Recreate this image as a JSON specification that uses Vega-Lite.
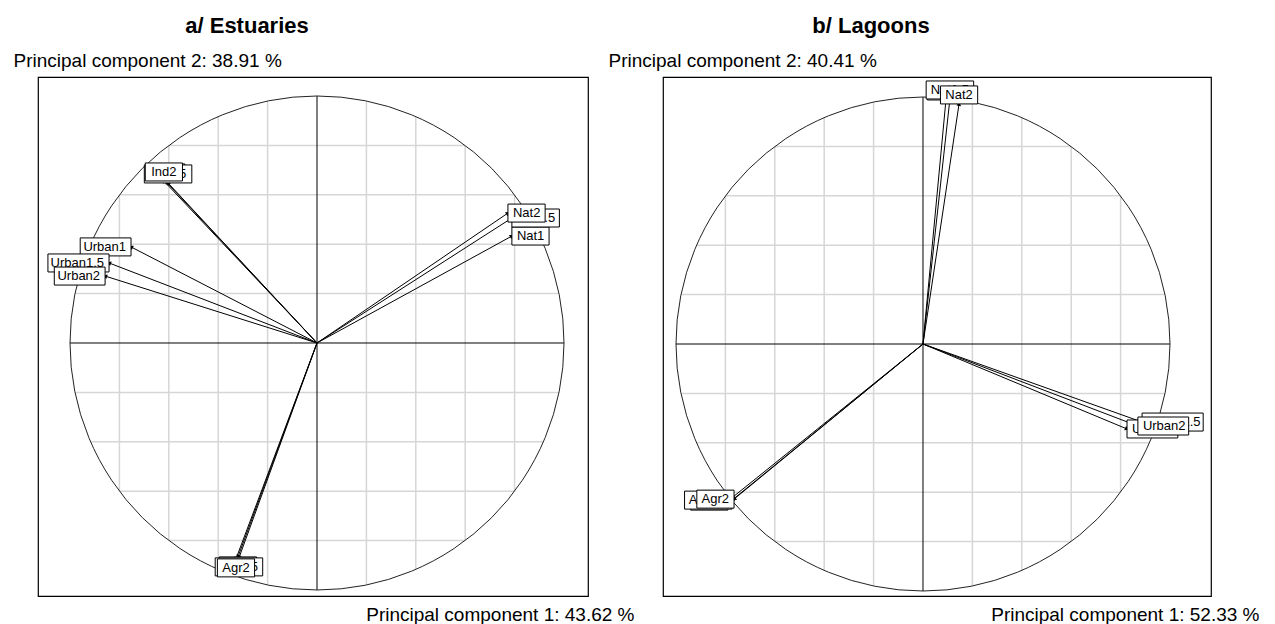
{
  "$schema": "https://vega.github.io/schema/vega-lite/v6.json",
  "background": "white",
  "padding": {"left": 12, "top": 14, "right": 10, "bottom": 0},
  "autosize": {"type": "pad"},
  "config": {
    "view": {"stroke": "black", "strokeWidth": 1.2},
    "axis": {"domain": false, "ticks": false, "labels": false, "grid": false, "titleFont": "Liberation Sans", "titleFontSize": 19, "titleFontWeight": "normal", "titleColor": "black", "titlePadding": 0},
    "title": {"font": "Liberation Sans", "fontSize": 22, "fontWeight": "bold", "color": "black"},
    "text": {"font": "Liberation Sans"}
  },
  "datasets": {
    "grid": [
      {"x": -0.8, "y": -0.6, "x2": -0.8, "y2": 0.6},
      {"x": -0.6, "y": -0.8, "x2": -0.6, "y2": 0.8},
      {"x": -0.4, "y": -0.9165, "x2": -0.4, "y2": 0.9165},
      {"x": -0.2, "y": -0.9798, "x2": -0.2, "y2": 0.9798},
      {"x": 0.2, "y": -0.9798, "x2": 0.2, "y2": 0.9798},
      {"x": 0.4, "y": -0.9165, "x2": 0.4, "y2": 0.9165},
      {"x": 0.6, "y": -0.8, "x2": 0.6, "y2": 0.8},
      {"x": 0.8, "y": -0.6, "x2": 0.8, "y2": 0.6},
      {"x": -0.6, "y": -0.8, "x2": 0.6, "y2": -0.8},
      {"x": -0.8, "y": -0.6, "x2": 0.8, "y2": -0.6},
      {"x": -0.9165, "y": -0.4, "x2": 0.9165, "y2": -0.4},
      {"x": -0.9798, "y": -0.2, "x2": 0.9798, "y2": -0.2},
      {"x": -0.9798, "y": 0.2, "x2": 0.9798, "y2": 0.2},
      {"x": -0.9165, "y": 0.4, "x2": 0.9165, "y2": 0.4},
      {"x": -0.8, "y": 0.6, "x2": 0.8, "y2": 0.6},
      {"x": -0.6, "y": 0.8, "x2": 0.6, "y2": 0.8}
    ],
    "axes": [
      {"x": -1, "y": 0, "x2": 1, "y2": 0},
      {"x": 0, "y": -1, "x2": 0, "y2": 1}
    ],
    "origin": [{"x": 0, "y": 0}],
    "estuaries": [
      {"label": "Nat1", "stage": 1, "x": 0.789, "y": 0.433},
      {"label": "Nat1.5", "stage": 1.5, "x": 0.789, "y": 0.506},
      {"label": "Nat2", "stage": 2, "x": 0.773, "y": 0.526},
      {"label": "Urban1", "stage": 1, "x": -0.753, "y": 0.389},
      {"label": "Urban1.5", "stage": 1.5, "x": -0.842, "y": 0.324},
      {"label": "Urban2", "stage": 2, "x": -0.858, "y": 0.271},
      {"label": "Ind1", "stage": 1, "x": -0.61, "y": 0.652},
      {"label": "Ind1.5", "stage": 1.5, "x": -0.603, "y": 0.648},
      {"label": "Ind2", "stage": 2, "x": -0.62, "y": 0.656},
      {"label": "Agr1", "stage": 1, "x": -0.32, "y": -0.866},
      {"label": "Agr1.5", "stage": 1.5, "x": -0.316, "y": -0.87},
      {"label": "Agr2", "stage": 2, "x": -0.328, "y": -0.874}
    ],
    "lagoons": [
      {"label": "Nat1", "stage": 1, "x": 0.093, "y": 0.988},
      {"label": "Nat1.5", "stage": 1.5, "x": 0.109, "y": 0.992},
      {"label": "Nat2", "stage": 2, "x": 0.146, "y": 0.972},
      {"label": "Urban1", "stage": 1, "x": 0.826, "y": -0.344},
      {"label": "Urban1.5", "stage": 1.5, "x": 0.887, "y": -0.316},
      {"label": "Urban2", "stage": 2, "x": 0.87, "y": -0.332},
      {"label": "Agr1", "stage": 1, "x": -0.79, "y": -0.636},
      {"label": "Agr1.5", "stage": 1.5, "x": -0.773, "y": -0.632},
      {"label": "Agr2", "stage": 2, "x": -0.765, "y": -0.628}
    ]
  },
  "hconcat": [
    {
      "width": 550,
      "height": 519,
      "title": {"text": "a/ Estuaries", "anchor": "middle", "frame": "group", "dx": -66, "offset": -3, "baseline": "alphabetic"},
      "layer": [
        {
          "data": {"name": "grid"},
          "mark": {"type": "rule", "color": "#d6d6d6", "strokeWidth": 1.5},
          "encoding": {
            "x": {"field": "x", "type": "quantitative", "scale": {"domain": [-1.1296, 1.0972], "nice": false, "zero": false},
                  "axis": {"title": "Principal component 1: 43.62 %", "titleAlign": "right", "titleBaseline": "alphabetic", "titleX": 596, "titleY": 24}},
            "y": {"field": "y", "type": "quantitative", "scale": {"domain": [-1.0243, 1.0769], "nice": false, "zero": false},
                  "axis": {"title": "Principal component 2: 38.91 %", "titleAngle": 0, "titleAlign": "left", "titleBaseline": "alphabetic", "titleX": -25, "titleY": -10.3}},
            "x2": {"field": "x2"},
            "y2": {"field": "y2"}
          }
        },
        {
          "data": {"name": "axes"},
          "mark": {"type": "rule", "color": "black", "strokeWidth": 1},
          "encoding": {
            "x": {"field": "x", "type": "quantitative"},
            "y": {"field": "y", "type": "quantitative"},
            "x2": {"field": "x2"},
            "y2": {"field": "y2"}
          }
        },
        {
          "data": {"name": "origin"},
          "mark": {"type": "point", "shape": "circle", "size": 244036, "filled": false, "stroke": "#222222", "strokeWidth": 1, "opacity": 1},
          "encoding": {
            "x": {"field": "x", "type": "quantitative"},
            "y": {"field": "y", "type": "quantitative"}
          }
        },
        {
          "data": {"name": "estuaries"},
          "mark": {"type": "rule", "color": "black", "strokeWidth": 1},
          "encoding": {
            "x": {"field": "x", "type": "quantitative"},
            "y": {"field": "y", "type": "quantitative"},
            "x2": {"datum": 0},
            "y2": {"datum": 0}
          }
        },
        {
          "data": {"name": "estuaries"},
          "mark": {"type": "point", "shape": "triangle-up", "size": 22, "filled": true, "color": "black", "opacity": 1, "angle": {"expr": "90 - atan2(datum.y, datum.x) * 180 / PI"}},
          "encoding": {
            "x": {"field": "x", "type": "quantitative"},
            "y": {"field": "y", "type": "quantitative"}
          }
        },
        {
          "data": {"name": "estuaries"},
          "transform": [{"filter": "datum.stage == 1"}],
          "mark": {"type": "point", "size": 4, "filled": true, "fill": "white", "stroke": "black", "strokeWidth": 1, "opacity": 1,
                   "shape": {"expr": "datum.y > 0.6 ? 'M' + (-(10+6.8*length(replace(datum.label,'.',''))+(indexof(datum.label,'.')>=0?3.5:0))/2) + ',-18h' + (10+6.8*length(replace(datum.label,'.',''))+(indexof(datum.label,'.')>=0?3.5:0)) + 'v18h' + (-(10+6.8*length(replace(datum.label,'.',''))+(indexof(datum.label,'.')>=0?3.5:0))) + 'z' : datum.y < -0.75 ? 'M' + (-(10+6.8*length(replace(datum.label,'.',''))+(indexof(datum.label,'.')>=0?3.5:0))/2) + ',0h' + (10+6.8*length(replace(datum.label,'.',''))+(indexof(datum.label,'.')>=0?3.5:0)) + 'v18h' + (-(10+6.8*length(replace(datum.label,'.',''))+(indexof(datum.label,'.')>=0?3.5:0))) + 'z' : datum.x > 0 ? 'M0,-9h' + (10+6.8*length(replace(datum.label,'.',''))+(indexof(datum.label,'.')>=0?3.5:0)) + 'v18h' + (-(10+6.8*length(replace(datum.label,'.',''))+(indexof(datum.label,'.')>=0?3.5:0))) + 'z' : 'M0,-9h' + (-(10+6.8*length(replace(datum.label,'.',''))+(indexof(datum.label,'.')>=0?3.5:0))) + 'v18h' + (10+6.8*length(replace(datum.label,'.',''))+(indexof(datum.label,'.')>=0?3.5:0)) + 'z'"}},
          "encoding": {
            "x": {"field": "x", "type": "quantitative"},
            "y": {"field": "y", "type": "quantitative"}
          }
        },
        {
          "data": {"name": "estuaries"},
          "transform": [{"filter": "datum.stage == 1"}],
          "mark": {"type": "text", "fontSize": 13, "color": "black", "baseline": "middle",
                   "align": {"expr": "datum.y > 0.6 || datum.y < -0.75 ? 'center' : datum.x > 0 ? 'left' : 'right'"},
                   "dx": {"expr": "datum.y > 0.6 || datum.y < -0.75 ? 0 : datum.x > 0 ? 5 : -5"},
                   "dy": {"expr": "datum.y > 0.6 ? -9 : datum.y < -0.75 ? 9 : 0"}},
          "encoding": {
            "x": {"field": "x", "type": "quantitative"},
            "y": {"field": "y", "type": "quantitative"},
            "text": {"field": "label"}
          }
        },
        {
          "data": {"name": "estuaries"},
          "transform": [{"filter": "datum.stage == 1.5"}],
          "mark": {"type": "point", "size": 4, "filled": true, "fill": "white", "stroke": "black", "strokeWidth": 1, "opacity": 1,
                   "shape": {"expr": "datum.y > 0.6 ? 'M' + (-(10+6.8*length(replace(datum.label,'.',''))+(indexof(datum.label,'.')>=0?3.5:0))/2) + ',-18h' + (10+6.8*length(replace(datum.label,'.',''))+(indexof(datum.label,'.')>=0?3.5:0)) + 'v18h' + (-(10+6.8*length(replace(datum.label,'.',''))+(indexof(datum.label,'.')>=0?3.5:0))) + 'z' : datum.y < -0.75 ? 'M' + (-(10+6.8*length(replace(datum.label,'.',''))+(indexof(datum.label,'.')>=0?3.5:0))/2) + ',0h' + (10+6.8*length(replace(datum.label,'.',''))+(indexof(datum.label,'.')>=0?3.5:0)) + 'v18h' + (-(10+6.8*length(replace(datum.label,'.',''))+(indexof(datum.label,'.')>=0?3.5:0))) + 'z' : datum.x > 0 ? 'M0,-9h' + (10+6.8*length(replace(datum.label,'.',''))+(indexof(datum.label,'.')>=0?3.5:0)) + 'v18h' + (-(10+6.8*length(replace(datum.label,'.',''))+(indexof(datum.label,'.')>=0?3.5:0))) + 'z' : 'M0,-9h' + (-(10+6.8*length(replace(datum.label,'.',''))+(indexof(datum.label,'.')>=0?3.5:0))) + 'v18h' + (10+6.8*length(replace(datum.label,'.',''))+(indexof(datum.label,'.')>=0?3.5:0)) + 'z'"}},
          "encoding": {
            "x": {"field": "x", "type": "quantitative"},
            "y": {"field": "y", "type": "quantitative"}
          }
        },
        {
          "data": {"name": "estuaries"},
          "transform": [{"filter": "datum.stage == 1.5"}],
          "mark": {"type": "text", "fontSize": 13, "color": "black", "baseline": "middle",
                   "align": {"expr": "datum.y > 0.6 || datum.y < -0.75 ? 'center' : datum.x > 0 ? 'left' : 'right'"},
                   "dx": {"expr": "datum.y > 0.6 || datum.y < -0.75 ? 0 : datum.x > 0 ? 5 : -5"},
                   "dy": {"expr": "datum.y > 0.6 ? -9 : datum.y < -0.75 ? 9 : 0"}},
          "encoding": {
            "x": {"field": "x", "type": "quantitative"},
            "y": {"field": "y", "type": "quantitative"},
            "text": {"field": "label"}
          }
        },
        {
          "data": {"name": "estuaries"},
          "transform": [{"filter": "datum.stage == 2"}],
          "mark": {"type": "point", "size": 4, "filled": true, "fill": "white", "stroke": "black", "strokeWidth": 1, "opacity": 1,
                   "shape": {"expr": "datum.y > 0.6 ? 'M' + (-(10+6.8*length(replace(datum.label,'.',''))+(indexof(datum.label,'.')>=0?3.5:0))/2) + ',-18h' + (10+6.8*length(replace(datum.label,'.',''))+(indexof(datum.label,'.')>=0?3.5:0)) + 'v18h' + (-(10+6.8*length(replace(datum.label,'.',''))+(indexof(datum.label,'.')>=0?3.5:0))) + 'z' : datum.y < -0.75 ? 'M' + (-(10+6.8*length(replace(datum.label,'.',''))+(indexof(datum.label,'.')>=0?3.5:0))/2) + ',0h' + (10+6.8*length(replace(datum.label,'.',''))+(indexof(datum.label,'.')>=0?3.5:0)) + 'v18h' + (-(10+6.8*length(replace(datum.label,'.',''))+(indexof(datum.label,'.')>=0?3.5:0))) + 'z' : datum.x > 0 ? 'M0,-9h' + (10+6.8*length(replace(datum.label,'.',''))+(indexof(datum.label,'.')>=0?3.5:0)) + 'v18h' + (-(10+6.8*length(replace(datum.label,'.',''))+(indexof(datum.label,'.')>=0?3.5:0))) + 'z' : 'M0,-9h' + (-(10+6.8*length(replace(datum.label,'.',''))+(indexof(datum.label,'.')>=0?3.5:0))) + 'v18h' + (10+6.8*length(replace(datum.label,'.',''))+(indexof(datum.label,'.')>=0?3.5:0)) + 'z'"}},
          "encoding": {
            "x": {"field": "x", "type": "quantitative"},
            "y": {"field": "y", "type": "quantitative"}
          }
        },
        {
          "data": {"name": "estuaries"},
          "transform": [{"filter": "datum.stage == 2"}],
          "mark": {"type": "text", "fontSize": 13, "color": "black", "baseline": "middle",
                   "align": {"expr": "datum.y > 0.6 || datum.y < -0.75 ? 'center' : datum.x > 0 ? 'left' : 'right'"},
                   "dx": {"expr": "datum.y > 0.6 || datum.y < -0.75 ? 0 : datum.x > 0 ? 5 : -5"},
                   "dy": {"expr": "datum.y > 0.6 ? -9 : datum.y < -0.75 ? 9 : 0"}},
          "encoding": {
            "x": {"field": "x", "type": "quantitative"},
            "y": {"field": "y", "type": "quantitative"},
            "text": {"field": "label"}
          }
        }
      ]
    },
    {
      "width": 548,
      "height": 519,
      "title": {"text": "b/ Lagoons", "anchor": "middle", "frame": "group", "dx": -66, "offset": -3, "baseline": "alphabetic"},
      "layer": [
        {
          "data": {"name": "grid"},
          "mark": {"type": "rule", "color": "#d6d6d6", "strokeWidth": 1.5},
          "encoding": {
            "x": {"field": "x", "type": "quantitative", "scale": {"domain": [-1.0526, 1.166], "nice": false, "zero": false},
                  "axis": {"title": "Principal component 1: 52.33 %", "titleAlign": "right", "titleBaseline": "alphabetic", "titleX": 596, "titleY": 24}},
            "y": {"field": "y", "type": "quantitative", "scale": {"domain": [-1.0202, 1.081], "nice": false, "zero": false},
                  "axis": {"title": "Principal component 2: 40.41 %", "titleAngle": 0, "titleAlign": "left", "titleBaseline": "alphabetic", "titleX": -55, "titleY": -10.3}},
            "x2": {"field": "x2"},
            "y2": {"field": "y2"}
          }
        },
        {
          "data": {"name": "axes"},
          "mark": {"type": "rule", "color": "black", "strokeWidth": 1},
          "encoding": {
            "x": {"field": "x", "type": "quantitative"},
            "y": {"field": "y", "type": "quantitative"},
            "x2": {"field": "x2"},
            "y2": {"field": "y2"}
          }
        },
        {
          "data": {"name": "origin"},
          "mark": {"type": "point", "shape": "circle", "size": 244036, "filled": false, "stroke": "#222222", "strokeWidth": 1, "opacity": 1},
          "encoding": {
            "x": {"field": "x", "type": "quantitative"},
            "y": {"field": "y", "type": "quantitative"}
          }
        },
        {
          "data": {"name": "lagoons"},
          "mark": {"type": "rule", "color": "black", "strokeWidth": 1},
          "encoding": {
            "x": {"field": "x", "type": "quantitative"},
            "y": {"field": "y", "type": "quantitative"},
            "x2": {"datum": 0},
            "y2": {"datum": 0}
          }
        },
        {
          "data": {"name": "lagoons"},
          "mark": {"type": "point", "shape": "triangle-up", "size": 22, "filled": true, "color": "black", "opacity": 1, "angle": {"expr": "90 - atan2(datum.y, datum.x) * 180 / PI"}},
          "encoding": {
            "x": {"field": "x", "type": "quantitative"},
            "y": {"field": "y", "type": "quantitative"}
          }
        },
        {
          "data": {"name": "lagoons"},
          "transform": [{"filter": "datum.stage == 1"}],
          "mark": {"type": "point", "size": 4, "filled": true, "fill": "white", "stroke": "black", "strokeWidth": 1, "opacity": 1,
                   "shape": {"expr": "datum.y > 0.6 ? 'M' + (-(10+6.8*length(replace(datum.label,'.',''))+(indexof(datum.label,'.')>=0?3.5:0))/2) + ',-18h' + (10+6.8*length(replace(datum.label,'.',''))+(indexof(datum.label,'.')>=0?3.5:0)) + 'v18h' + (-(10+6.8*length(replace(datum.label,'.',''))+(indexof(datum.label,'.')>=0?3.5:0))) + 'z' : datum.y < -0.75 ? 'M' + (-(10+6.8*length(replace(datum.label,'.',''))+(indexof(datum.label,'.')>=0?3.5:0))/2) + ',0h' + (10+6.8*length(replace(datum.label,'.',''))+(indexof(datum.label,'.')>=0?3.5:0)) + 'v18h' + (-(10+6.8*length(replace(datum.label,'.',''))+(indexof(datum.label,'.')>=0?3.5:0))) + 'z' : datum.x > 0 ? 'M0,-9h' + (10+6.8*length(replace(datum.label,'.',''))+(indexof(datum.label,'.')>=0?3.5:0)) + 'v18h' + (-(10+6.8*length(replace(datum.label,'.',''))+(indexof(datum.label,'.')>=0?3.5:0))) + 'z' : 'M0,-9h' + (-(10+6.8*length(replace(datum.label,'.',''))+(indexof(datum.label,'.')>=0?3.5:0))) + 'v18h' + (10+6.8*length(replace(datum.label,'.',''))+(indexof(datum.label,'.')>=0?3.5:0)) + 'z'"}},
          "encoding": {
            "x": {"field": "x", "type": "quantitative"},
            "y": {"field": "y", "type": "quantitative"}
          }
        },
        {
          "data": {"name": "lagoons"},
          "transform": [{"filter": "datum.stage == 1"}],
          "mark": {"type": "text", "fontSize": 13, "color": "black", "baseline": "middle",
                   "align": {"expr": "datum.y > 0.6 || datum.y < -0.75 ? 'center' : datum.x > 0 ? 'left' : 'right'"},
                   "dx": {"expr": "datum.y > 0.6 || datum.y < -0.75 ? 0 : datum.x > 0 ? 5 : -5"},
                   "dy": {"expr": "datum.y > 0.6 ? -9 : datum.y < -0.75 ? 9 : 0"}},
          "encoding": {
            "x": {"field": "x", "type": "quantitative"},
            "y": {"field": "y", "type": "quantitative"},
            "text": {"field": "label"}
          }
        },
        {
          "data": {"name": "lagoons"},
          "transform": [{"filter": "datum.stage == 1.5"}],
          "mark": {"type": "point", "size": 4, "filled": true, "fill": "white", "stroke": "black", "strokeWidth": 1, "opacity": 1,
                   "shape": {"expr": "datum.y > 0.6 ? 'M' + (-(10+6.8*length(replace(datum.label,'.',''))+(indexof(datum.label,'.')>=0?3.5:0))/2) + ',-18h' + (10+6.8*length(replace(datum.label,'.',''))+(indexof(datum.label,'.')>=0?3.5:0)) + 'v18h' + (-(10+6.8*length(replace(datum.label,'.',''))+(indexof(datum.label,'.')>=0?3.5:0))) + 'z' : datum.y < -0.75 ? 'M' + (-(10+6.8*length(replace(datum.label,'.',''))+(indexof(datum.label,'.')>=0?3.5:0))/2) + ',0h' + (10+6.8*length(replace(datum.label,'.',''))+(indexof(datum.label,'.')>=0?3.5:0)) + 'v18h' + (-(10+6.8*length(replace(datum.label,'.',''))+(indexof(datum.label,'.')>=0?3.5:0))) + 'z' : datum.x > 0 ? 'M0,-9h' + (10+6.8*length(replace(datum.label,'.',''))+(indexof(datum.label,'.')>=0?3.5:0)) + 'v18h' + (-(10+6.8*length(replace(datum.label,'.',''))+(indexof(datum.label,'.')>=0?3.5:0))) + 'z' : 'M0,-9h' + (-(10+6.8*length(replace(datum.label,'.',''))+(indexof(datum.label,'.')>=0?3.5:0))) + 'v18h' + (10+6.8*length(replace(datum.label,'.',''))+(indexof(datum.label,'.')>=0?3.5:0)) + 'z'"}},
          "encoding": {
            "x": {"field": "x", "type": "quantitative"},
            "y": {"field": "y", "type": "quantitative"}
          }
        },
        {
          "data": {"name": "lagoons"},
          "transform": [{"filter": "datum.stage == 1.5"}],
          "mark": {"type": "text", "fontSize": 13, "color": "black", "baseline": "middle",
                   "align": {"expr": "datum.y > 0.6 || datum.y < -0.75 ? 'center' : datum.x > 0 ? 'left' : 'right'"},
                   "dx": {"expr": "datum.y > 0.6 || datum.y < -0.75 ? 0 : datum.x > 0 ? 5 : -5"},
                   "dy": {"expr": "datum.y > 0.6 ? -9 : datum.y < -0.75 ? 9 : 0"}},
          "encoding": {
            "x": {"field": "x", "type": "quantitative"},
            "y": {"field": "y", "type": "quantitative"},
            "text": {"field": "label"}
          }
        },
        {
          "data": {"name": "lagoons"},
          "transform": [{"filter": "datum.stage == 2"}],
          "mark": {"type": "point", "size": 4, "filled": true, "fill": "white", "stroke": "black", "strokeWidth": 1, "opacity": 1,
                   "shape": {"expr": "datum.y > 0.6 ? 'M' + (-(10+6.8*length(replace(datum.label,'.',''))+(indexof(datum.label,'.')>=0?3.5:0))/2) + ',-18h' + (10+6.8*length(replace(datum.label,'.',''))+(indexof(datum.label,'.')>=0?3.5:0)) + 'v18h' + (-(10+6.8*length(replace(datum.label,'.',''))+(indexof(datum.label,'.')>=0?3.5:0))) + 'z' : datum.y < -0.75 ? 'M' + (-(10+6.8*length(replace(datum.label,'.',''))+(indexof(datum.label,'.')>=0?3.5:0))/2) + ',0h' + (10+6.8*length(replace(datum.label,'.',''))+(indexof(datum.label,'.')>=0?3.5:0)) + 'v18h' + (-(10+6.8*length(replace(datum.label,'.',''))+(indexof(datum.label,'.')>=0?3.5:0))) + 'z' : datum.x > 0 ? 'M0,-9h' + (10+6.8*length(replace(datum.label,'.',''))+(indexof(datum.label,'.')>=0?3.5:0)) + 'v18h' + (-(10+6.8*length(replace(datum.label,'.',''))+(indexof(datum.label,'.')>=0?3.5:0))) + 'z' : 'M0,-9h' + (-(10+6.8*length(replace(datum.label,'.',''))+(indexof(datum.label,'.')>=0?3.5:0))) + 'v18h' + (10+6.8*length(replace(datum.label,'.',''))+(indexof(datum.label,'.')>=0?3.5:0)) + 'z'"}},
          "encoding": {
            "x": {"field": "x", "type": "quantitative"},
            "y": {"field": "y", "type": "quantitative"}
          }
        },
        {
          "data": {"name": "lagoons"},
          "transform": [{"filter": "datum.stage == 2"}],
          "mark": {"type": "text", "fontSize": 13, "color": "black", "baseline": "middle",
                   "align": {"expr": "datum.y > 0.6 || datum.y < -0.75 ? 'center' : datum.x > 0 ? 'left' : 'right'"},
                   "dx": {"expr": "datum.y > 0.6 || datum.y < -0.75 ? 0 : datum.x > 0 ? 5 : -5"},
                   "dy": {"expr": "datum.y > 0.6 ? -9 : datum.y < -0.75 ? 9 : 0"}},
          "encoding": {
            "x": {"field": "x", "type": "quantitative"},
            "y": {"field": "y", "type": "quantitative"},
            "text": {"field": "label"}
          }
        }
      ]
    }
  ],
  "spacing": 75,
  "bounds": "flush"
}
